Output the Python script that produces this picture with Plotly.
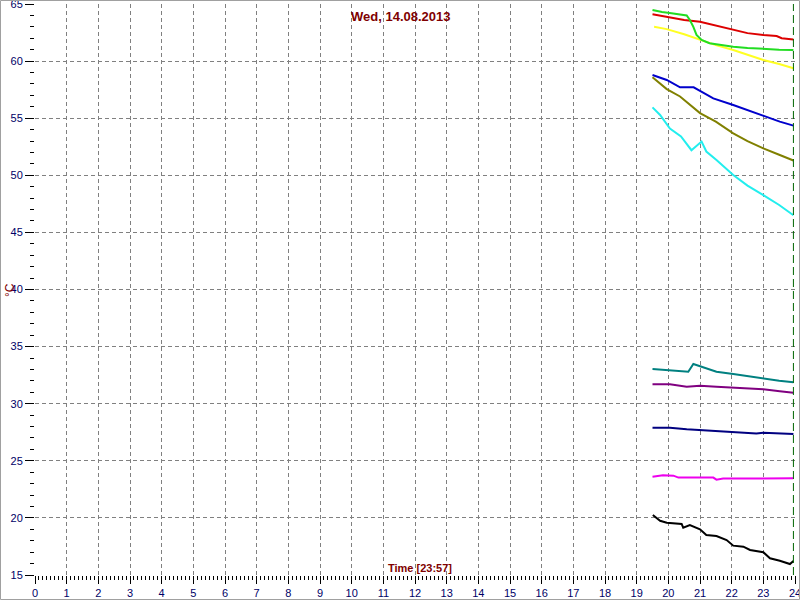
import plotly.graph_objects as go

# ---- data (hours, °C) ----
red_t = [19.5, 19.95, 20.5, 21.0, 21.5, 22.05, 22.26, 22.5, 23.0, 23.42, 23.58, 23.95]
red_v = [64.1, 63.9, 63.6, 63.45, 63.1, 62.7, 62.6, 62.45, 62.28, 62.2, 62.0, 61.9]

green_t = [19.5, 19.8, 20.1, 20.37, 20.58, 20.68, 20.79, 20.89, 21.05, 21.3, 21.63, 22.05, 22.5, 23.0, 23.5, 23.95]
green_v = [64.47, 64.3, 64.2, 64.1, 64.0, 63.6, 63.0, 62.3, 61.85, 61.56, 61.4, 61.26, 61.15, 61.06, 61.0, 60.97]

yellow_t = [19.55, 19.95, 20.5, 21.0, 21.5, 22.05, 22.5, 23.0, 23.5, 23.95]
yellow_v = [63.0, 62.8, 62.35, 61.85, 61.4, 60.97, 60.55, 60.1, 59.75, 59.37]

blue_t = [19.5, 19.95, 20.37, 20.8, 21.0, 21.42, 22.05, 22.5, 23.0, 23.52, 23.95]
blue_v = [58.78, 58.35, 57.7, 57.7, 57.4, 56.74, 56.16, 55.7, 55.2, 54.7, 54.35]

olive_t = [19.5, 19.95, 20.37, 21.0, 21.5, 22.05, 22.5, 23.0, 23.5, 23.95]
olive_v = [58.58, 57.55, 56.9, 55.45, 54.7, 53.68, 53.0, 52.36, 51.8, 51.3]

cyan_t = [19.5, 19.74, 20.05, 20.4, 20.73, 21.05, 21.2, 21.52, 22.05, 22.5, 23.0, 23.5, 23.95]
cyan_v = [55.95, 55.28, 54.1, 53.4, 52.2, 52.96, 52.08, 51.34, 50.03, 49.1, 48.27, 47.4, 46.5]

teal_t = [19.5, 20.05, 20.63, 20.79, 21.0, 21.52, 22.05, 22.5, 23.0, 23.5, 23.95]
teal_v = [33.04, 32.9, 32.8, 33.48, 33.3, 32.8, 32.6, 32.4, 32.22, 32.0, 31.87]

purple_t = [19.5, 20.05, 20.58, 21.0, 21.52, 22.05, 22.5, 23.0, 23.52, 23.95]
purple_v = [31.7, 31.7, 31.49, 31.58, 31.49, 31.4, 31.33, 31.26, 31.1, 30.96]

navy_t = [19.5, 20.05, 20.58, 21.0, 22.05, 22.78, 23.0, 23.95]
navy_v = [27.9, 27.9, 27.76, 27.7, 27.55, 27.4, 27.45, 27.35]

magenta_t = [19.5, 19.83, 20.16, 20.32, 21.0, 21.42, 21.52, 21.73, 23.95]
magenta_v = [23.61, 23.73, 23.7, 23.53, 23.53, 23.53, 23.35, 23.44, 23.47]

black_t = [19.51, 19.74, 19.95, 20.42, 20.47, 20.68, 21.0, 21.2, 21.52, 21.84, 22.05, 22.37, 22.58, 23.0, 23.21, 23.52, 23.84, 23.95]
black_v = [20.25, 19.75, 19.58, 19.47, 19.14, 19.38, 19.0, 18.5, 18.41, 18.06, 17.57, 17.48, 17.19, 16.99, 16.46, 16.25, 15.96, 16.23]

now_t = 23.95
title_text = "Wed, 14.08.2013"
time_text = "Time [23:57]"
y_label = "°C"

series = [
    (red_t, red_v, "#dd0000"),
    (yellow_t, yellow_v, "#ffff22"),
    (green_t, green_v, "#22dd22"),
    (blue_t, blue_v, "#0000cc"),
    (olive_t, olive_v, "#808000"),
    (cyan_t, cyan_v, "#22eeee"),
    (teal_t, teal_v, "#008080"),
    (purple_t, purple_v, "#800080"),
    (navy_t, navy_v, "#000080"),
    (magenta_t, magenta_v, "#ee00ee"),
    (black_t, black_v, "#000000"),
]

fig = go.Figure()
for t, v, c in series:
    fig.add_trace(go.Scatter(x=t, y=v, mode="lines", line=dict(color=c, width=2), showlegend=False))

fig.add_trace(go.Scatter(x=[now_t, now_t], y=[15, 65], mode="lines",
                         line=dict(color="#006400", width=1, dash="8px,4px"), showlegend=False))

font = dict(family="Liberation Sans, Arial, sans-serif", size=11, color="#000066")
ffam = "Liberation Sans, Arial, sans-serif"

fig.update_layout(
    width=800, height=600,
    margin=dict(l=35, r=5, t=4, b=25),
    paper_bgcolor="white", plot_bgcolor="white",
    font=font,
    xaxis=dict(range=[0, 24], dtick=1, tick0=0, showgrid=True, gridcolor="#808080",
               griddash="4px,3px", gridwidth=1, zeroline=False, showline=False,
               ticks="outside", ticklen=8, tickcolor="black", tickwidth=1,
               ticklabeloverflow="allow", automargin=False,
               minor=dict(dtick=0.125, ticks="outside", ticklen=4, tickcolor="black", showgrid=False),
               tickfont=font),
    yaxis=dict(range=[15, 65], dtick=5, tick0=15, showgrid=True, gridcolor="#808080",
               griddash="4px,3px", gridwidth=1, zeroline=False, showline=False,
               ticks="outside", ticklen=9, tickcolor="black", tickwidth=1,
               ticklabeloverflow="allow", automargin=False,
               minor=dict(dtick=1, ticks="outside", ticklen=4, tickcolor="black", showgrid=False),
               tickfont=font),
)

fig.add_annotation(text="<b>" + title_text + "</b>", xref="paper", yref="paper",
                   x=(401 - 35) / 760, y=(575 - 17) / 571, showarrow=False,
                   font=dict(family=ffam, size=13, color="#800000"),
                   xanchor="center", yanchor="middle")
fig.add_annotation(text="<b>" + time_text + "</b>", xref="paper", yref="paper",
                   x=(420 - 35) / 760, y=(575 - 568) / 571, showarrow=False,
                   font=dict(family=ffam, size=11, color="#800000"),
                   xanchor="center", yanchor="middle")
fig.add_annotation(text=y_label, xref="paper", yref="paper",
                   x=(10 - 35) / 760, y=(575 - 290) / 571, showarrow=False, textangle=-90,
                   font=dict(family=ffam, size=12, color="#800000"),
                   xanchor="center", yanchor="middle")

fig.add_shape(type="rect", xref="paper", yref="paper",
              x0=(0.5 - 35) / 760, x1=(799.5 - 35) / 760,
              y0=(575 - 599.5) / 571, y1=(575 - 0.5) / 571,
              line=dict(color="#a0a0a0", width=1), fillcolor="rgba(0,0,0,0)")

fig.write_html("out.html", config={"displayModeBar": False},
               post_script="document.body.style.margin='0';document.body.style.overflow='hidden';")
